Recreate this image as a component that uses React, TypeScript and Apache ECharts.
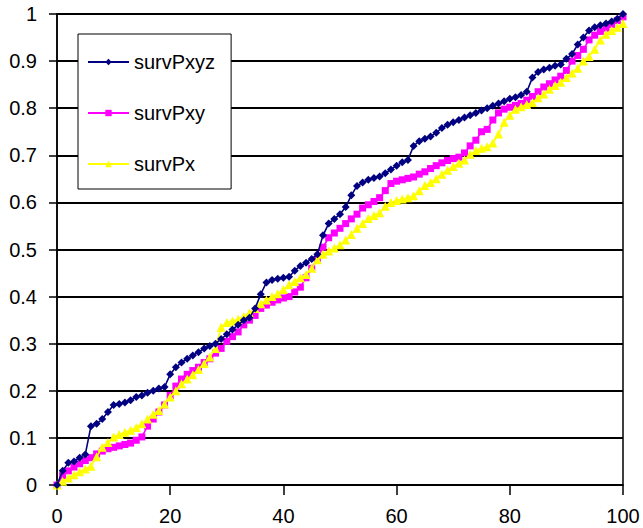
import React, { useEffect, useRef } from "react";
import * as echarts from "echarts";

// Percentile positions along the x-axis (0..100)
const xValues: number[] = Array.from({ length: 101 }, (_, i) => i);

const seriesNames = ["survPxyz", "survPxy", "survPx"];

const survPxyz: number[] = [
  0, 0.03, 0.047, 0.05, 0.058, 0.065, 0.125, 0.13, 0.14, 0.155,
  0.17, 0.172, 0.175, 0.18, 0.187, 0.19, 0.196, 0.2, 0.205, 0.208,
  0.235, 0.25, 0.26, 0.268, 0.275, 0.282, 0.29, 0.295, 0.3, 0.31,
  0.32, 0.33, 0.34, 0.35, 0.355, 0.375, 0.405, 0.43, 0.435, 0.438,
  0.44, 0.442, 0.455, 0.465, 0.472, 0.48, 0.49, 0.53, 0.555, 0.565,
  0.575, 0.59, 0.615, 0.635, 0.642, 0.648, 0.652, 0.655, 0.662, 0.67,
  0.678, 0.685, 0.69, 0.72, 0.73, 0.735, 0.74, 0.748, 0.758, 0.765,
  0.77, 0.775, 0.78, 0.785, 0.79, 0.795, 0.8, 0.805, 0.81, 0.815,
  0.82, 0.823, 0.828, 0.835, 0.865, 0.877, 0.882, 0.886, 0.89, 0.893,
  0.905, 0.915, 0.935, 0.95, 0.965, 0.972, 0.976, 0.98, 0.984, 0.99,
  1.0,
];

const survPxy: number[] = [
  0, 0.02, 0.03, 0.038, 0.045, 0.052, 0.058, 0.066, 0.072, 0.077,
  0.08, 0.083, 0.086, 0.089, 0.095, 0.102, 0.125, 0.14, 0.155, 0.17,
  0.19, 0.21, 0.225, 0.235, 0.243, 0.25, 0.26, 0.268, 0.28, 0.29,
  0.305, 0.315, 0.325, 0.34, 0.35, 0.36, 0.375, 0.382, 0.388, 0.393,
  0.397, 0.4, 0.41, 0.42, 0.44, 0.46, 0.48, 0.505, 0.525, 0.535,
  0.545, 0.555, 0.565, 0.575, 0.588, 0.595, 0.602, 0.61, 0.625, 0.64,
  0.645, 0.648, 0.651, 0.654, 0.66, 0.665, 0.672, 0.678, 0.684, 0.689,
  0.693, 0.696, 0.705, 0.72, 0.732, 0.75, 0.755, 0.775, 0.79, 0.798,
  0.802, 0.806, 0.81, 0.817, 0.825, 0.835, 0.845, 0.852, 0.86, 0.868,
  0.88, 0.9, 0.912, 0.925, 0.945, 0.955, 0.963, 0.97, 0.978, 0.986,
  0.994,
];

const survPx: number[] = [
  0, 0.008, 0.015, 0.022, 0.028, 0.034, 0.04, 0.06, 0.08, 0.09,
  0.102, 0.107, 0.112, 0.116, 0.122, 0.13, 0.14, 0.15, 0.158, 0.172,
  0.187, 0.2, 0.215, 0.225, 0.234, 0.245, 0.258, 0.272, 0.29, 0.335,
  0.345, 0.348, 0.352, 0.358, 0.365, 0.375, 0.385, 0.393, 0.4, 0.406,
  0.415, 0.425, 0.432, 0.44, 0.447, 0.46, 0.478, 0.49, 0.497, 0.503,
  0.51, 0.52, 0.532, 0.545, 0.555, 0.566, 0.572, 0.578, 0.592, 0.6,
  0.604, 0.607, 0.61, 0.614, 0.625, 0.636, 0.642, 0.65, 0.66, 0.668,
  0.676, 0.683, 0.69, 0.702, 0.71, 0.715, 0.718, 0.726, 0.745, 0.77,
  0.785, 0.798, 0.803, 0.808, 0.812, 0.822, 0.83, 0.84, 0.848, 0.855,
  0.865, 0.875, 0.885, 0.9, 0.91, 0.925, 0.945, 0.957, 0.965, 0.972,
  0.98,
];

const FONT = "'Liberation Sans', Arial, sans-serif";

export default function App() {
  const ref = useRef<HTMLDivElement>(null);

  useEffect(() => {
    if (!ref.current) return;
    const chart = echarts.init(ref.current, undefined, { renderer: "svg" });

    const pairs = (ys: number[]) => xValues.map((x, i) => [x, ys[i]]);

    chart.setOption({
      animation: false,
      backgroundColor: "#ffffff",
      textStyle: { fontFamily: FONT, color: "#000" },
      grid: {
        left: 57,
        top: 14,
        right: 20,
        bottom: 43,
        show: true,
        borderColor: "#000",
        borderWidth: 1.5,
        backgroundColor: "transparent",
      },
      legend: {
        orient: "vertical",
        left: 78,
        top: 34,
        data: seriesNames,
        backgroundColor: "#ffffff",
        borderColor: "#000",
        borderWidth: 1,
        padding: [18, 16, 15, 9],
        itemGap: 31,
        itemWidth: 41,
        itemHeight: 8,
        textStyle: { fontFamily: FONT, fontSize: 20, color: "#000" },
      },
      xAxis: {
        type: "value",
        min: 0,
        max: 100,
        interval: 20,
        axisLine: { show: true, lineStyle: { color: "#000", width: 1.5 } },
        axisTick: { show: true, length: 10, lineStyle: { color: "#000", width: 1.5 } },
        axisLabel: { margin: 21, fontSize: 20, color: "#000", fontFamily: FONT },
        splitLine: { show: false },
      },
      yAxis: {
        type: "value",
        min: 0,
        max: 1,
        interval: 0.1,
        axisLine: { show: true, lineStyle: { color: "#000", width: 1.5 } },
        axisTick: { show: true, length: 8, lineStyle: { color: "#000", width: 1.5 } },
        axisLabel: { margin: 20, fontSize: 20, color: "#000", fontFamily: FONT },
        splitLine: { show: true, lineStyle: { color: "#000", width: 1.8 } },
      },
      series: [
        {
          name: "survPxyz",
          type: "line",
          data: pairs(survPxyz),
          z: 4,
          color: "#000080",
          symbol: "diamond",
          symbolSize: 8,
          showAllSymbol: true,
          lineStyle: { width: 1.6, color: "#000080" },
          itemStyle: { color: "#000080" },
        },
        {
          name: "survPxy",
          type: "line",
          data: pairs(survPxy),
          z: 2,
          color: "#ff00ff",
          symbol: "rect",
          symbolSize: 7,
          showAllSymbol: true,
          lineStyle: { width: 1.6, color: "#ff00ff" },
          itemStyle: { color: "#ff00ff" },
        },
        {
          name: "survPx",
          type: "line",
          data: pairs(survPx),
          z: 3,
          color: "#ffff00",
          symbol: "triangle",
          symbolSize: 9,
          showAllSymbol: true,
          lineStyle: { width: 1.6, color: "#ffff00" },
          itemStyle: { color: "#ffff00" },
        },
      ],
    });

    return () => chart.dispose();
  }, []);

  return (
    <div
      ref={ref}
      style={{ position: "fixed", left: 0, top: 0, width: 643, height: 528 }}
    />
  );
}
